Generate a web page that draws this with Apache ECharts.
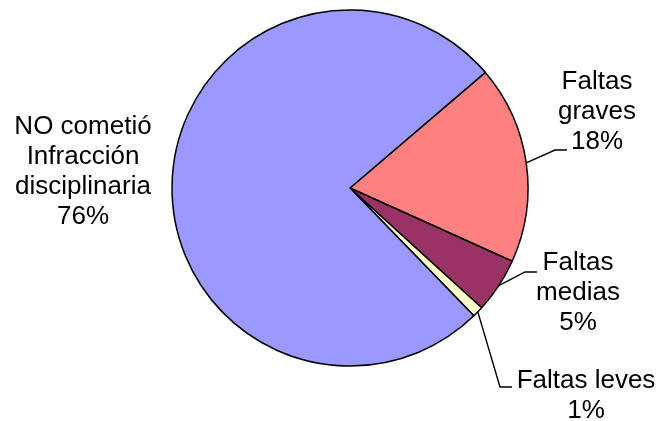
<!DOCTYPE html>
<html><head><meta charset="utf-8">
<script src="https://cdn.jsdelivr.net/npm/echarts@6/dist/echarts.min.js"></script>
<style>html,body{margin:0;padding:0;background:#fff}#c{width:665px;height:421px}</style>
</head><body><div id="c"></div>
<script>
const categories = ['Faltas\ngraves', 'Faltas\nmedias', 'Faltas leves', 'NO cometió\nInfracción\ndisciplinaria'];
const values = [18, 5, 1, 76];
const colors = ['#FF8080', '#993366', '#FFFFCC', '#9999FF'];
const labelPos = [[597, 112], [578, 293], [586, 396], [83, 172]];
const lineElbow = [[[555, 150], [567, 150]], [[525, 272], [537, 272]], [[500, 387], [512, 387]], null];

const chart = echarts.init(document.getElementById('c'), null, {renderer: 'canvas'});
chart.setOption({
  animation: false,
  series: [{
    type: 'pie',
    center: [350, 188],
    radius: 178,
    startAngle: 40.5,
    clockwise: true,
    data: categories.map((n, i) => ({
      name: n, value: values[i],
      itemStyle: {color: colors[i]},
      labelLine: {show: i !== 3}
    })),
    itemStyle: {borderColor: '#000', borderWidth: 1.5},
    label: {
      show: true,
      formatter: p => p.name + '\n' + Math.round(p.percent) + '%',
      fontFamily: 'Liberation Sans, Arial, sans-serif',
      fontSize: 26,
      lineHeight: 30,
      color: '#000',
      align: 'center',
      overflow: 'none',
      width: 200
    },
    labelLine: {show: true, length: 15, length2: 12, lineStyle: {color: '#000', width: 1.4}},
    labelLayout: function (params) {
      const i = params.dataIndex;
      const p = labelPos[i];
      const r = {x: p[0], y: p[1], align: 'center', verticalAlign: 'middle'};
      if (lineElbow[i] && params.labelLinePoints) {
        r.labelLinePoints = [params.labelLinePoints[0], lineElbow[i][0], lineElbow[i][1]];
      }
      return r;
    },
    emphasis: {disabled: true}
  }]
});
</script></body></html>
